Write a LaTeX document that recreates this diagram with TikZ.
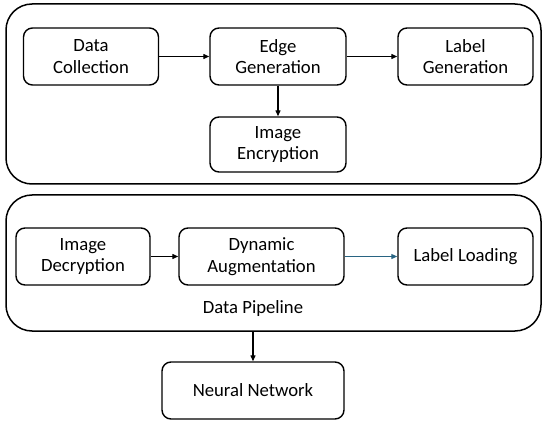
\documentclass[tikz,border=0pt]{standalone}
\usepackage{fontspec}
\setmainfont{Carlito}
\usetikzlibrary{arrows.meta,positioning}

\begin{document}
\begin{tikzpicture}[
    x=1pt, y=-1pt,
    box/.style={draw, rounded corners=9pt, line width=1.4pt, minimum width=135pt, minimum height=57pt, align=center, font=\fontsize{18.7}{21.5}\selectfont, inner sep=2pt},
    group/.style={draw, rounded corners=26pt, line width=1.5pt, minimum width=535pt, inner sep=0pt},
    arr/.style={-{Triangle[length=6pt,width=5pt]}, line width=1.3pt},
    lbl/.style={font=\fontsize{18.7}{21.5}\selectfont}
]
\useasboundingbox (0,0) rectangle (550,428);

% outer groups
\node[group, minimum height=180pt] (prep) at (273.5,94) {};
\node[group, minimum height=136pt] (pipe) at (273.5,263) {};

% preparation stage
\node[box] (coll) at (91,56.5) {Data\\Collection};
\node[box, minimum width=136pt] (edge) at (278,56.5) {Edge\\Generation};
\node[box] (lgen) at (465.5,56.5) {Label\\Generation};
\node[box, minimum width=136pt, minimum height=55pt] (enc) at (278,144.5) {Image\\Encryption};

% data pipeline
\node[box, minimum width=134pt] (dec) at (83,256.5) {Image\\Decryption};
\node[box, minimum width=165pt] (aug) at (261.5,256.5) {Dynamic\\Augmentation};
\node[box] (load) at (465.5,256.5) {Label Loading};
\node[lbl] (pipetxt) at (253,309) {Data Pipeline};

\node[box, minimum width=182pt] (net) at (253,390.5) {Neural Network};

\draw[arr] (coll) -- (edge);
\draw[arr] (edge) -- (lgen);
\draw[arr] (edge) -- (enc);
\draw[arr] (dec) -- (aug);
\draw[arr, draw={rgb,255:red,40;green,100;blue,130}, fill={rgb,255:red,40;green,100;blue,130}, line width=1pt] (aug) -- (load);
\draw[arr] (pipe.south -| net.north) -- (net);
\end{tikzpicture}
\end{document}
